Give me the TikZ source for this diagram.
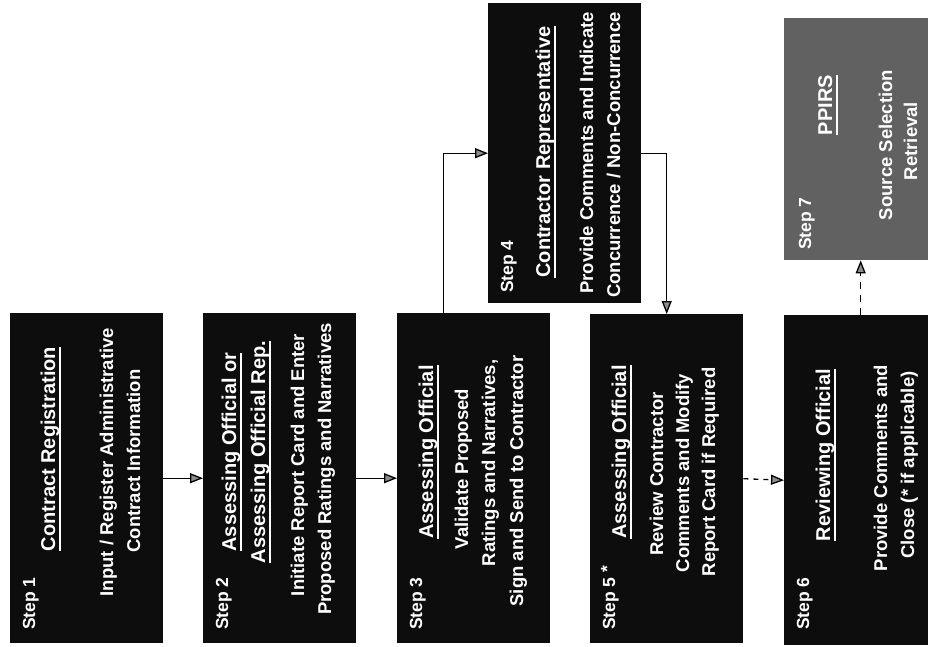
\documentclass[tikz,border=0pt]{standalone}
\usepackage{fontspec}
\setmainfont{Liberation Sans}
\usetikzlibrary{arrows.meta}
\newcommand\ulin[1]{\setbox0\hbox{#1}\rlap{\rule[-6pt]{\wd0}{1.6pt}}\box0}
\begin{document}
\begin{tikzpicture}[x=1pt,y=-1pt,
  box/.style={draw=none, fill=black!95, inner sep=0pt, minimum width=153pt, anchor=north west},
  steplbl/.style={rotate=90, anchor=base west, inner sep=0pt, text=white, font=\fontsize{17.5}{20}\selectfont\bfseries},
  ttl/.style={rotate=90, anchor=base, inner sep=0pt, text=white, font=\fontsize{20}{24}\selectfont\bfseries},
  body/.style={rotate=90, anchor=base, inner sep=0pt, text=white, font=\fontsize{18.5}{22}\selectfont\bfseries},
  conn/.style={line width=1.3pt, -{Triangle[length=13pt,width=10pt,fill=black!45]}},
]
\useasboundingbox (0,0) rectangle (928,647);
\fill[white] (0,0) rectangle (928,647);

% boxes
\node[box, minimum height=330pt] (b1) at (10,313) {};
\node[box, minimum height=330pt] (b2) at (203,313) {};
\node[box, minimum height=330pt] (b3) at (397,313) {};
\node[box, minimum height=300pt] (b4) at (488,3) {};
\node[box, minimum height=329pt] (b5) at (590,314) {};
\node[box, minimum height=330pt] (b6) at (784,315) {};
\node[box, minimum height=242pt, fill=black!62] (b7) at (784,18) {};

% connectors
\draw[conn] (b1.east) -- (b2.west);
\draw[conn] (b2.east) -- (b3.west);
\draw[conn] ([xshift=-30pt]b3.north) |- (b4.west);
\draw[conn] (b4.east) -| (b5.north);
\draw[conn, dash pattern=on 5pt off 5pt] (b5.east) -- (b6.west);
\draw[conn, dash pattern=on 7pt off 6pt] (b6.north) -- (b7.south);

% box 1
\node[steplbl] (s1) at (35,630) {Step 1};
\node[ttl] (t1) at (55,449) {\ulin{Contract Registration}};
\node[body] (d1a) at (113,462) {Input / Register Administrative};
\node[body] (d1b) at (140,461) {Contract Information};

% box 2
\node[steplbl] (s2) at (228,630) {Step 2};
\node[ttl] (t2a) at (236,452) {\ulin{Assessing Official or}};
\node[ttl] (t2b) at (265,452) {\ulin{Assessing Official Rep.}};
\node[body] (d2a) at (304,465) {Initiate Report Card and Enter};
\node[body] (d2b) at (331,469) {Proposed Ratings and Narratives};

% box 3
\node[steplbl] (s3) at (422,630) {Step 3};
\node[ttl] (t3) at (433,452) {\ulin{Assessing Official}};
\node[body] (d3a) at (468,469) {Validate Proposed};
\node[body] (d3b) at (495,463) {Ratings and Narratives,};
\node[body] (d3c) at (523,481) {Sign and Send to Contractor};

% box 4
\node[steplbl] (s4) at (513,293) {Step 4};
\node[ttl] (t4) at (550,152) {\ulin{Contractor Representative}};
\node[body] (d4a) at (593,153) {Provide Comments and Indicate};
\node[body] (d4b) at (620,155) {Concurrence / Non-Concurrence};

% box 5
\node[steplbl] (s5) at (615,630) {Step 5 \raisebox{2pt}{*}};
\node[ttl] (t5) at (626,452) {\ulin{Assessing Official}};
\node[body] (d5a) at (663,474) {Review Contractor};
\node[body] (d5b) at (689,473) {Comments and Modify};
\node[body] (d5c) at (715,472) {Report Card if Required};

% box 6
\node[steplbl] (s6) at (809,630) {Step 6};
\node[ttl] (t6) at (830,455) {\ulin{Reviewing Official}};
\node[body] (d6a) at (887,468) {Provide Comments and};
\node[body] (d6b) at (914,465) {Close (* if applicable)};

% box 7
\node[steplbl] (s7) at (811,250) {Step 7};
\node[ttl] (t7) at (832,105) {\ulin{PPIRS}};
\node[body] (d7a) at (892,145) {Source Selection};
\node[body] (d7b) at (917,141) {Retrieval};
\end{tikzpicture}
\end{document}
